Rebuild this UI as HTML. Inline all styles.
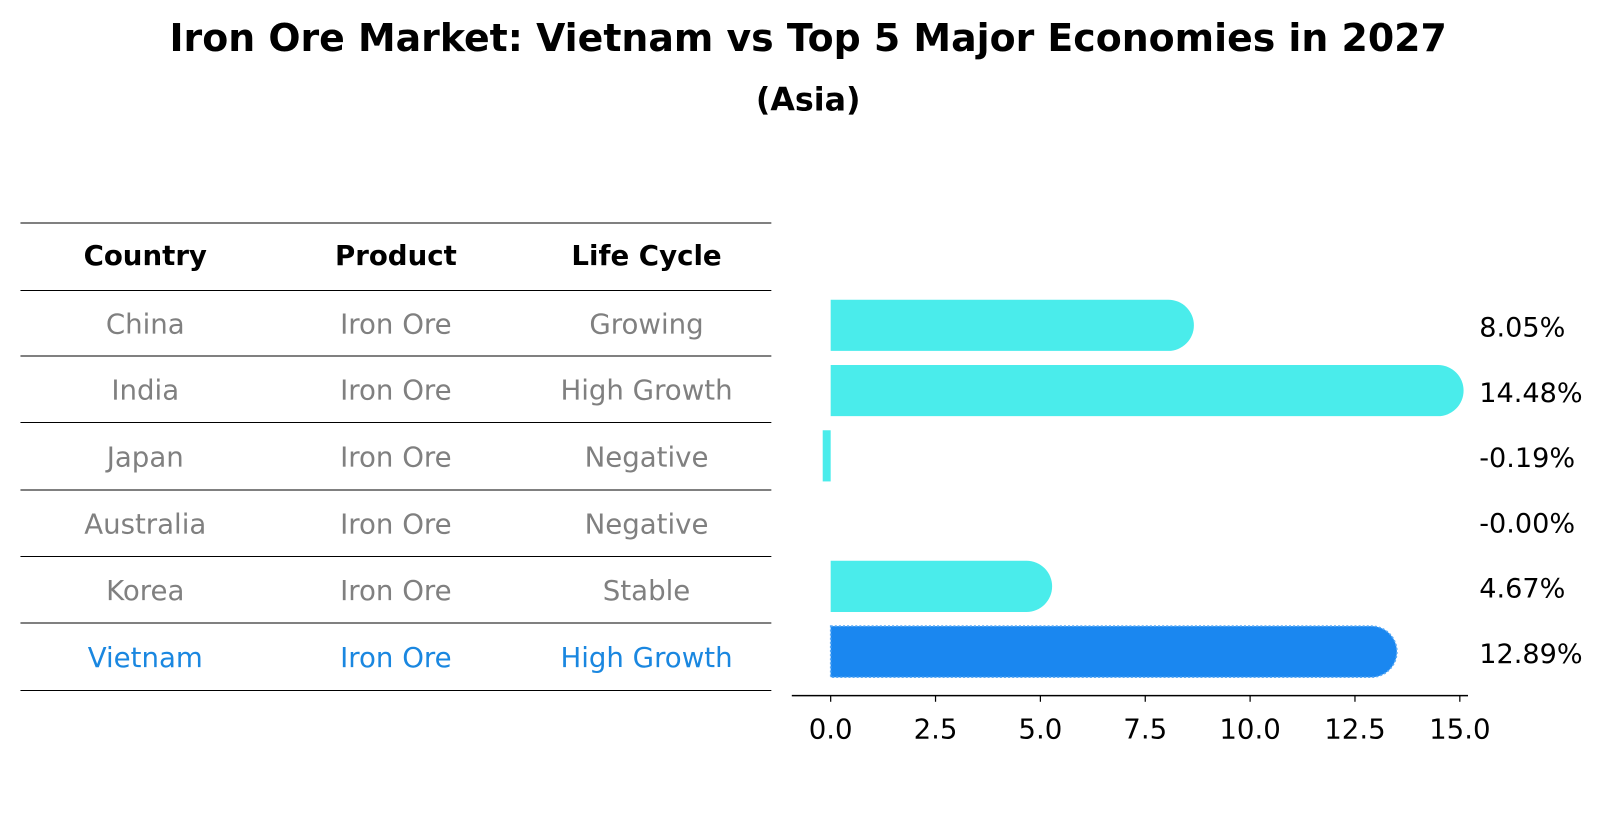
<!DOCTYPE html>
<html><head><meta charset="utf-8"><style>
body{margin:0;background:#fff;font-family:"Liberation Sans","DejaVu Sans",sans-serif;}
svg text{font-family:"DejaVu Sans","Liberation Sans",sans-serif;}
</style></head><body>
<svg width="1604" height="823" viewBox="0 0 1604 823">
<g transform="scale(1.023)">
<text x="790" y="50" text-anchor="middle" font-size="37" font-weight="bold">Iron Ore Market: Vietnam vs Top 5 Major Economies in 2027</text>
<text x="790" y="108" text-anchor="middle" font-size="31" font-weight="bold">(Asia)</text>
<g id="table"></g>
<g id="bars"></g>
</g>
</svg>
<script>
const countries=["China","India","Japan","Australia","Korea","Vietnam"];
const products=["Iron Ore","Iron Ore","Iron Ore","Iron Ore","Iron Ore","Iron Ore"];
const lifeCycles=["Growing","High Growth","Negative","Negative","Stable","High Growth"];
const values=[8.05,14.48,-0.19,-0.0,4.67,12.89];
const valueLabels=["8.05%","14.48%","-0.19%","-0.00%","4.67%","12.89%"];
const ticks=[0,2.5,5,7.5,10,12.5,15];
const tickLabels=["0.0","2.5","5.0","7.5","10.0","12.5","15.0"];

const NS="http://www.w3.org/2000/svg";
function mk(tag,attrs,parent){const e=document.createElementNS(NS,tag);for(const k in attrs)e.setAttribute(k,attrs[k]);parent.appendChild(e);return e;}
const tbl=document.getElementById('table');
const lineYs=[218,284,348,413,479,544,609,675];
lineYs.forEach(y=>{const l=mk('line',{x1:20,x2:754,y1:y,y2:y,stroke:'#000','stroke-width':1},tbl);

});
const colX=[142,387,632];
["Country","Product","Life Cycle"].forEach((h,i)=>{const t=mk('text',{x:colX[i],y:259,'text-anchor':'middle','font-size':27,'font-weight':'bold'},tbl);t.textContent=h;

});
countries.forEach((c,r)=>{const y=(lineYs[r+1]+lineYs[r+2])/2+10;const col=c==="Vietnam"?"#1a87e0":"#808080";
[c,products[r],lifeCycles[r]].forEach((v,i)=>{const t=mk('text',{x:colX[i],y:y,'text-anchor':'middle','font-size':27,fill:col},tbl);t.textContent=v;

});});

const g=document.getElementById('bars');
const x0=812,pxPer=41;
const xs=v=>x0+v*pxPer;
const rowY=r=>318+r*63.8;
const bh=50;
values.forEach((v,r)=>{const cy=rowY(r);const top=cy-bh/2;const isV=countries[r]==="Vietnam";
const fill=isV?"#1a87f0":"#4aeceb";let el;
if(v>0.3){const xe=xs(v);const R=bh/2;
el=mk('path',{d:`M${x0},${top} L${xe},${top} A${R},${R} 0 0 1 ${xe},${top+bh} L${x0},${top+bh} Z`,fill:fill},g);
if(isV){el.setAttribute('stroke','#5aaaf5');el.setAttribute('stroke-width','1.5');el.setAttribute('stroke-dasharray','2,2');}}
else{const a=xs(Math.min(v,0)),b=xs(Math.max(v,0));el=mk('rect',{x:a,y:top,width:Math.abs(b-a),height:bh,fill:fill},g);}


const t=mk('text',{x:1446,y:cy+11,'font-size':26.5,fill:'#000'},g);t.textContent=valueLabels[r];

});
const ax=mk('line',{x1:774,x2:1435,y1:680,y2:680,stroke:'#000','stroke-width':1.5},g);


ticks.forEach((tv,i)=>{const x=xs(tv);const tk=mk('line',{x1:x,x2:x,y1:680,y2:686,stroke:'#000','stroke-width':1.2},g);


const t=mk('text',{x:x,y:722,'text-anchor':'middle','font-size':27},g);t.textContent=tickLabels[i];

});
</script>
</body></html>
